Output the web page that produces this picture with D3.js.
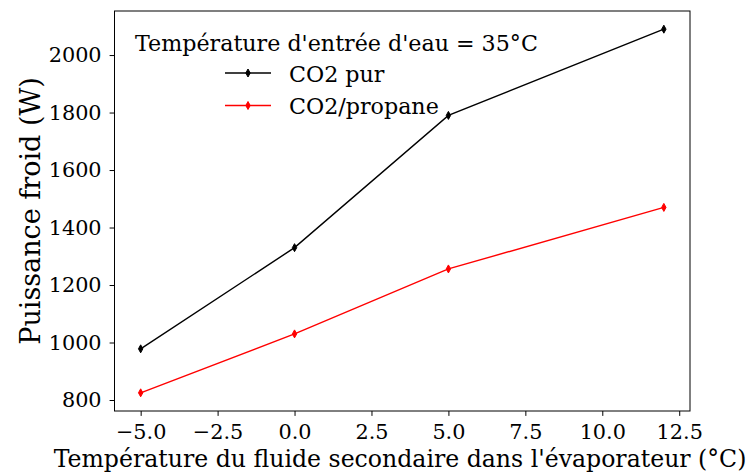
<!DOCTYPE html>
<html>
<head>
<meta charset="utf-8">
<script src="https://cdn.jsdelivr.net/npm/d3@7"></script>
<style>
html,body{margin:0;padding:0;background:#fff;}
svg{display:block;}
text{font-family:"DejaVu Serif",serif;}
</style>
</head>
<body>
<svg id="chart" width="749" height="474"></svg>
<script>
const temps = [-5, 0, 5, 12];
const co2Pur = [978, 1330, 1790, 2090];
const co2Propane = [825, 1030, 1256, 1470];
const xTicks = [-5, -2.5, 0, 2.5, 5, 7.5, 10, 12.5];
const yTicks = [800, 1000, 1200, 1400, 1600, 1800, 2000];
const seriesNames = ["CO2 pur", "CO2/propane"];
const seriesColors = ["#000000", "#ff0000"];
const legendTitle = "Température d'entrée d'eau = 35°C";
const xLabel = "Température du fluide secondaire dans l'évaporateur (°C)";
const yLabel = "Puissance froid (W)";

const svg = d3.select("#chart");
const L = 114.5, R = 690, T = 11, B = 411;

const xMin = d3.min(temps), xMax = d3.max(temps), xm = (xMax - xMin) * 0.05;
const allY = co2Pur.concat(co2Propane);
const yMin = d3.min(allY), yMax = d3.max(allY), ym = (yMax - yMin) * 0.05;

const x = d3.scaleLinear().domain([xMin - xm, xMax + xm]).range([L, R]);
const y = d3.scaleLinear().domain([yMin - ym, yMax + ym]).range([B, T]);

const fmtX = d => (d < 0 ? "\u2212" : "") + Math.abs(d).toFixed(1);

const xAxis = d3.axisBottom(x).tickValues(xTicks).tickFormat(fmtX).tickSize(4.9).tickPadding(8.5);
const yAxis = d3.axisLeft(y).tickValues(yTicks).tickFormat(d3.format("d")).tickSize(4.9).tickPadding(8);

const gx = svg.append("g").attr("transform", `translate(0,${B})`).call(xAxis);
const gy = svg.append("g").attr("transform", `translate(${L},0)`).call(yAxis);
[gx, gy].forEach(g => {
  g.select(".domain").remove();
  g.selectAll(".tick line").attr("stroke", "#000").attr("stroke-width", 1);
  g.selectAll(".tick text").attr("fill", "#000").style("font-size", "20.8px").style("font-family", "DejaVu Serif");
});

svg.append("rect").attr("x", L).attr("y", T).attr("width", R - L).attr("height", B - T)
  .attr("fill", "none").attr("stroke", "#000").attr("stroke-width", 1);

const series = [co2Pur, co2Propane];
const line = d3.line().x((d, i) => x(temps[i])).y(d => y(d));
const diamond = (cx, cy) => `M${cx},${cy - 4} L${cx + 2.2},${cy} L${cx},${cy + 4} L${cx - 2.2},${cy} Z`;

series.forEach((vals, si) => {
  svg.append("path").datum(vals).attr("d", line).attr("fill", "none")
    .attr("stroke", seriesColors[si]).attr("stroke-width", 1.4);
  svg.append("g").selectAll("path").data(vals).join("path")
    .attr("d", (d, i) => diamond(x(temps[i]), y(d)))
    .attr("fill", seriesColors[si]).attr("stroke", seriesColors[si]).attr("stroke-width", 1);
});

// legend
svg.append("text").attr("x", 135).attr("y", 51).style("font-size", "22.2px").attr("fill", "#000").text(legendTitle);
seriesNames.forEach((n, i) => {
  const ly = 73 + i * 32.5;
  svg.append("line").attr("x1", 225).attr("x2", 271).attr("y1", ly).attr("y2", ly)
    .attr("stroke", seriesColors[i]).attr("stroke-width", 1.4);
  svg.append("path").attr("d", diamond(248, ly)).attr("fill", seriesColors[i]).attr("stroke", seriesColors[i]);
  svg.append("text").attr("x", 289).attr("y", ly + 8.5).style("font-size", "22.2px").attr("fill", "#000").text(n);
});

// axis labels
svg.append("text").attr("x", 400).attr("y", 467).attr("text-anchor", "middle")
  .style("font-size", "23.6px").attr("fill", "#000").text(xLabel);
svg.append("text").attr("transform", `translate(40,${(T + B) / 2}) rotate(-90)`).attr("text-anchor", "middle")
  .style("font-size", "27px").attr("fill", "#000").text(yLabel);
</script>
</body>
</html>
